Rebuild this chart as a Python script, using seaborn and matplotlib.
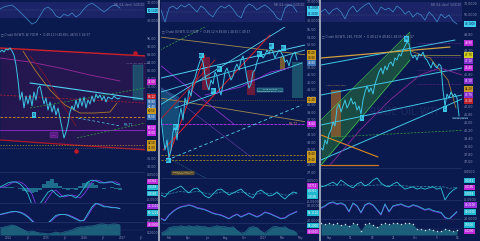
import numpy as np
import pandas as pd
import seaborn as sns
import matplotlib.pyplot as plt
from matplotlib.lines import Line2D
from matplotlib.patches import Rectangle

sns.set_theme(style="dark")
plt.rcParams['font.family'] = ['DejaVu Sans']

# ---------------- data ----------------
titles = ["Crude Oil WTI, W, FXCM", "Crude Oil WTI, D, FXCM", "Crude Oil WTI, 240, FXCM"]

left_price = [89, 90, 89, 90.5, 90, 91, 89.5, 87.5, 82.5, 75, 65, 69, 61, 67, 63, 67.5, 62, 69, 65, 71,
              72, 67.5, 63, 66, 60, 64, 59, 62.5, 57.5, 61, 56, 51, 46, 49, 53, 59, 62, 60, 65, 61,
              66, 62, 66.5, 61, 65, 63, 67, 64, 68, 66, 67.5, 65, 67, 64, 66.5, 66, 65.5, 67, 66, 65.5, 66]
mid_price = [37.8, 34.4, 31.4, 33.4, 29.8, 31.4, 35.0, 36.4, 33.4, 37.8, 39.8, 37.4, 41.8, 40.4, 43.4, 42.2,
             45.0, 45.8, 47.4, 48.6, 49.8, 49.0, 46.4, 44.4, 43.4, 45.4, 44.6, 47.0, 46.2, 43.8, 42.4, 44.4,
             47.0, 47.8, 46.6, 45.4, 46.2, 47.8, 48.6, 47.4, 49.4, 50.2, 48.2, 45.8, 43.8, 44.6, 47.0, 47.4,
             49.0, 50.2, 51.0, 49.8, 50.4, 51.4, 50.6, 51.8, 51.0, 49.8, 50.6, 51.4, 51.0, 50.2, 49.0, 49.4,
             48.2, 49.8, 50.6, 51.0, 49.4]
right_price = [38.4, 38.2, 39.2, 38.8, 39.8, 40.2, 41.0, 40.6, 42.4, 42.8, 42.0, 42.6, 43.2, 42.4, 42.8, 43.4,
               42.8, 43.0, 42.2, 42.6, 41.8, 43.2, 44.0, 44.6, 44.0, 44.4, 43.8, 44.8, 45.4, 46.0, 46.4, 45.8,
               46.6, 46.2, 46.8, 47.0, 46.6, 47.4, 47.2, 47.8, 47.6, 48.2, 48.6, 49.0, 48.8, 47.8, 47.4, 47.7,
               47.2, 47.8, 47.6, 48.0, 47.4, 47.2, 46.8, 46.4, 47.0, 46.6, 46.4, 46.8, 46.6, 44.2, 42.6, 43.8,
               43.4, 44.0, 43.6, 43.8, 43.4, 41.6]

left_top = [68, 75, 79, 82, 71, 57, 43, 29, 14, 21, 43, 68, 75, 64, 43, 36, 50, 43, 54, 39, 50, 68, 82, 89,
            79, 68, 57, 68, 79, 82, 71]
mid_top = [62, 15, 69, 77, 65, 81, 73, 85, 69, 54, 77, 65, 46, 35, 62, 77, 69, 81, 65, 42, 31, 69, 85, 77,
           62, 73, 81, 69, 54, 31, 23, 69, 81, 77, 54]
right_top = [60, 70, 53, 67, 73, 60, 37, 67, 80, 60, 73, 83, 90, 70, 53, 77, 67, 73, 60, 80, 70, 53, 63, 43,
             57, 50, 33, 60, 47, 27, 53, 40, 50, 30, 20]

left_osc_fast = [52, 58, 65, 68, 68, 61, 48, 29, -6, -16, -3, 16, 35, 42, 29, 19, 23, 26, 23, 16, 29, 48, 68,
                 74, 71, 65, 65, 68, 68, 61, 58]
left_osc_slow = [50, 52, 58, 65, 68, 68, 61, 48, 29, -6, -16, -3, 16, 35, 42, 29, 19, 23, 26, 23, 16, 29, 48,
                 68, 74, 71, 65, 65, 68, 68, 61]
left_osc_hist = [0, 3, 5, 3, 0, -3, -8, -12, -15, -12, -6, 12, 24, 30, 18, 6, -3, -6, -3, -6, 6, 15, 20, 18,
                 9, 0, -3, 0, 3, -3, -6]
left_stoch_a = [40, 45, 50, 55, 55, 50, 40, 25, 5, -15, -25, -20, -5, 15, 35, 40, 40, 35, 25, 15, 5, 10, 45, 80,
                100, 90, 80, 80, 75, 75, 70]
left_stoch_b = [38, 42, 48, 52, 55, 53, 45, 30, 10, -10, -22, -22, -10, 8, 28, 38, 40, 38, 30, 20, 8, 6, 35, 70,
                95, 95, 85, 80, 78, 76, 72]
left_area = [54, 62, 69, 77, 69, 54, 38, 23, 31, 23, 15, 15, 8, 15, 23, 15, 23, 31, 38, 54, 62, 62, 69, 69, 77,
             85, 85, 77, 85, 85, 77]

mid_osc_fast = [32, 24, 44, 52, 60, 68, 52, 40, 56, 60, 44, 28, 20, 36, 52, 56, 44, 32, 40, 48, 56, 40, 28, 20,
                44, 52, 40, 28, 32, 44, 28, 16, 32, 44, 40]
mid_osc_slow = [40, 38, 36, 40, 44, 46, 44, 42, 44, 46, 44, 40, 36, 36, 40, 44, 44, 40, 40, 42, 44, 42, 38, 34,
                36, 40, 40, 38, 36, 38, 36, 32, 32, 36, 38]
mid_stoch = [23, 14, 41, 59, 73, 82, 86, 91, 86, 77, 73, 68, 59, 50, 45, 41, 32, 23, 36, 45, 32, 41, 50, 41, 32,
             41, 55, 50, 41, 32, 23, 27, 41, 50, 59]
mid_area = [15, 31, 62, 69, 69, 77, 69, 77, 69, 77, 69, 69, 62, 69, 77, 69, 69, 62, 69, 38, 15, 23, 62, 69, 62,
            31, 15, 46, 69, 69, 62, 69, 46, 38, 15]

right_osc_fast = [41, 44, 50, 56, 47, 62, 53, 44, 38, 50, 56, 44, 50, 62, 69, 53, 44, 41, 50, 56, 44, 34, 38, 41,
                  34, 38, 34, 38, 41, 34, 38, 0, 19, 31, 38]
right_osc_slow = [44, 44, 45, 46, 46, 47, 47, 46, 45, 46, 47, 46, 45, 46, 47, 47, 46, 45, 45, 46, 45, 44, 43, 43,
                  43, 42, 42, 42, 42, 42, 42, 40, 36, 38, 40]
right_stoch = [60, 70, 85, 90, 80, 85, 75, 40, 85, 70, 35, 75, 85, 75, 50, 25, 80, 40, 70, 75, 80, 70, 65, 75, 70,
               60, 50, 55, 45, 40, 35, 10, 0, 20, 40]
right_area = [72, 67, 72, 67, 72, 61, 67, 56, 72, 67, 28, 67, 72, 61, 50, 67, 72, 67, 72, 78, 67, 72, 78, 67, 39,
              39, 33, 39, 33, 22, 28, 39, 33, 22, 33]

left_dates = ["2014", "Jul", "2015", "Jul", "2016", "Jul", "2017", "Jul"]
mid_dates = ["Feb", "Apr", "Jun", "Aug", "Oct", "2017", "Mar", "May"]
right_dates = ["Sep", "11", "18", "25", "Oct", "9", "16"]

# ---------------- style ----------------
W, H = 480, 241
BG = '#0b1a4e'
BAND = '#1a2466'
CYAN = '#3cc6e6'
BLUE = '#3f86cc'
PURP = '#7b3be6'
TEAL = '#1b5f7a'
GREY = '#8791b8'

fig = plt.figure(figsize=(4.8, 2.41), dpi=100)
fig.patch.set_facecolor(BG)


def px_axes(x0, y0, x1, y1):
    ax = fig.add_axes([x0 / W, 1 - y1 / H, (x1 - x0) / W, (y1 - y0) / H])
    ax.set_facecolor(BG)
    for s in ax.spines.values():
        s.set_visible(False)
    ax.yaxis.tick_right()
    ax.tick_params(axis='both', length=0, labelsize=2.3, colors=GREY, pad=1.5)
    ax.set_xticks([])
    ax.grid(False)
    ax.set_xlabel('')
    ax.set_ylabel('')
    return ax


def sline(ax, y, color, lw=0.6, **kw):
    sns.lineplot(x=np.arange(len(y)), y=y, ax=ax, color=color, linewidth=lw,
                 estimator=None, legend=False, **kw)
    ax.set_xlabel('')
    ax.set_ylabel('')


def seg(ax, p, q, color, lw=0.6, ls='-', alpha=1.0):
    ax.plot([p[0], q[0]], [p[1], q[1]], color=color, lw=lw, ls=ls, alpha=alpha)


def tag(ax, y, text, color, tc='white'):
    ax.text(1.02, y, text, transform=ax.get_yaxis_transform(), fontsize=2.0, color=tc,
            va='center', ha='left', clip_on=False,
            bbox=dict(boxstyle='square,pad=0.25', fc=color, ec='none'))


def note(ax, x, y, text, color=CYAN, tc='#0b1a4e'):
    ax.text(x, y, text, fontsize=1.8, color=tc, ha='center', va='center',
            bbox=dict(boxstyle='square,pad=0.25', fc=color, ec='none'))


def set_ticks(ax, ticks, labels):
    ax.set_yticks(ticks)
    ax.set_yticklabels(labels)


# ---------------- column layout ----------------
cols = [
    dict(x0=0, x1=145, top=(0, 28), main=(30, 172), o1=(172, 203), o2=(203, 222), ar=(222, 235),
         tt=([25, 92], ['30.0000', '70.0000']), t1=([10, 92], ['-0.0500', '0.0500']),
         t2=([10], ['20.0000']), ta=([20], ['0.2000'])),
    dict(x0=161, x1=305, top=(0, 26), main=(27, 178), o1=(178, 203), o2=(203, 223), ar=(223, 235),
         tt=([20, 94], ['30.0000', '70.0000']), t1=([5, 92], ['-0.0500', '0.0500']),
         t2=([12, 88], ['20.0000', '80.0000']), ta=([], [])),
    dict(x0=321, x1=462, top=(0, 30), main=(32, 168), o1=(168, 200), o2=(200, 219), ar=(219, 235),
         tt=([52, 88], ['50.0000', '70.0000']), t1=([2, 88], ['-0.0500', '0.0500']),
         t2=([4], ['20.0000']), ta=([], [])),
]
plims = [(29, 100), (25.8, 56), (36.4, 50)]
pxlim = [72.5, 72, 70.5]
ptick = [np.arange(32, 100, 4), np.arange(27, 56, 1.5), np.arange(37, 50, 0.8)]
tops = [left_top, mid_top, right_top]
bands = [(36, 93, 64), (15, 92, 54), (27, 93, 50)]
oxlim = [36.25, 36, 35.25]

for k, c in enumerate(cols):
    x0, x1 = c['x0'], c['x1']
    # top oscillator
    a = px_axes(x0, c['top'][0], x1, c['top'][1])
    lo, hi, mid = bands[k]
    a.axhspan(lo, hi, color=BAND, lw=0)
    a.axhline(mid, color='#5d6aa8', lw=0.3, ls=(0, (2, 2)))
    sline(a, tops[k], BLUE, lw=0.55)
    a.set_xlim(0, oxlim[k]); a.set_ylim(0, 100)
    set_ticks(a, *c['tt'])
    a.text(0.99, 0.9, 'RSI (14, close)  54.8110', transform=a.transAxes, fontsize=1.8,
           color=GREY, ha='right', va='top')
    a.axhline(0, color='#22306a', lw=0.6)

    # main price
    m = px_axes(x0, c['main'][0], x1, c['main'][1])
    m.set_xlim(0, pxlim[k]); m.set_ylim(*plims[k])
    set_ticks(m, ptick[k], ['%.2f' % v for v in ptick[k]])
    m.text(0.01, 0.985, '\u25a1 ' + titles[k] + '  \u2022  O 49.12 H 49.80 L 48.55 C 49.37',
           transform=m.transAxes, fontsize=2.1, color=GREY, ha='left', va='top')

    # oscillator 1
    o1 = px_axes(x0, c['o1'][0], x1, c['o1'][1])
    o1.set_xlim(0, oxlim[k]); o1.set_ylim(0, 100)
    set_ticks(o1, *c['t1'])
    o1.axhline(100, color='#22306a', lw=0.6)
    # oscillator 2
    o2 = px_axes(x0, c['o2'][0], x1, c['o2'][1])
    o2.set_xlim(0, oxlim[k]); o2.set_ylim(0, 100)
    set_ticks(o2, *c['t2'])
    o2.axhline(100, color='#22306a', lw=0.6)
    # area
    ar = px_axes(x0, c['ar'][0], x1, c['ar'][1])
    ar.set_xlim(0, oxlim[k]); ar.set_ylim(0, 100)
    set_ticks(ar, *c['ta'])
    ar.axhline(100, color='#22306a', lw=0.6)
    ar.axhline(35, color='#3a4a8a', lw=0.3, ls=(0, (2, 2)))
    c['axes'] = (a, m, o1, o2, ar)

# ---------------- left column ----------------
a, m, o1, o2, ar = cols[0]['axes']
m.fill_between([0, 73.5], [91, 87], [45, 40], color='#3a1650', alpha=0.55, lw=0)
m.add_patch(Rectangle((66.5, 65), 5, 17.5, fc='#1d5a72', ec='#2a8aa8', lw=0.3, alpha=0.8))
seg(m, (0, 91), (73.5, 87), '#d0202a', lw=1.0)
seg(m, (0, 45), (73.5, 40), '#b01828', lw=0.9)
seg(m, (0, 67.5), (72.5, 63.5), '#c0202a', lw=0.5, ls=(0, (3, 2)))
seg(m, (0, 56.5), (72.5, 56.5), '#d89a20', lw=0.6, ls=(0, (3, 2)))
seg(m, (0, 50), (72.5, 50), '#9a2ad8', lw=0.6)
seg(m, (0, 42.5), (72.5, 42.5), '#b08a30', lw=0.5, ls=(0, (2, 2)))
seg(m, (0, 41), (72.5, 41), '#706060', lw=0.4, ls=(0, (2, 2)))
seg(m, (15, 73.5), (71.5, 65.5), '#4fd0f0', lw=0.8)
seg(m, (15, 61), (72.5, 71), '#2ea040', lw=0.5, ls=(0, (3, 2)))
seg(m, (38.5, 46), (72.5, 53.5), '#2ea040', lw=0.5, ls=(0, (3, 2)))
seg(m, (39, 56), (60, 52), '#4fd0f0', lw=0.5, ls=(0, (4, 3)))
m.plot([0, 15, 30, 45, 60], [86, 84, 81, 77.5, 74.5], color='#9a2a9a', lw=0.6)
m.plot([11.5, 17.5, 25, 32.5, 40, 47.5, 55, 58.5], [89.5, 80, 70, 62.5, 58.5, 58.5, 59, 63.5],
       color='#b07a2a', lw=0.6)
m.plot([15, 22, 30, 38], [87, 78, 65, 52], color='#8a1530', lw=0.5)
sline(m, left_price, CYAN, lw=0.7)
m.scatter([67.5, 38], [88.5, 39.5], s=5, color='#c01828', zorder=5)
m.text(27, 47.5, '\u2014\u2014', fontsize=2.2, color='#c060e0', ha='center', va='center',
       bbox=dict(boxstyle='round,pad=0.3', fc='#5a1a80', ec='#8a3ac0', lw=0.3))
m.text(69, 83.5, '10.00 (20.70%) 2180', fontsize=1.6, color=GREY, ha='center')
m.text(64, 51.8, 'MS.TT', fontsize=2.2, color='#4fd0f0', ha='center')
note(m, 17, 57.5, 'LS')
tag(m, 74, '74.00', '#c02ac8'); tag(m, 66.5, '66.12', '#c0202a'); tag(m, 64, '63.80', '#3a70b0')
tag(m, 61.5, '62.40', '#3a70b0'); tag(m, 59.5, '60.50', '#c89a20', '#201000')
tag(m, 56.5, '56.50', '#3a70b0'); tag(m, 51, '50.12', '#c02ae0'); tag(m, 48.5, '49.00', '#c02ae0')
tag(m, 43.5, '42.50', '#c89a20', '#201000'); tag(m, 41, '41.00', '#c89a20', '#201000')
a.text(1.02, 62, '50.1300', transform=a.get_yaxis_transform(), fontsize=2.0, color='#0b1a4e',
       va='center', ha='left', bbox=dict(boxstyle='square,pad=0.25', fc='#40d0f0', ec='none'))
o1.bar(np.arange(len(left_osc_hist)), left_osc_hist, bottom=48, width=0.8, color='#1f6d8c', lw=0)
sline(o1, left_osc_slow, PURP, lw=0.6)
sline(o1, left_osc_fast, '#2ec4dc', lw=0.6)
tag(o1, 70, '0.0341', '#c02ad8'); tag(o1, 50, '0.0158', '#20b8d0'); tag(o1, 30, '0.0183', '#20b8d0')
sline(o2, left_stoch_b, PURP, lw=0.6)
sline(o2, left_stoch_a, '#2ec4dc', lw=0.6)
tag(o2, 82, '72.1110', '#9a30e0'); tag(o2, 48, '60.1224', '#20b8d0')
ar.fill_between(np.arange(len(left_area)), left_area, 0, color=TEAL, lw=0)
sline(ar, left_area, '#2a7f9a', lw=0.4)
tag(ar, 80, '48.0000', '#c02ad8')

# ---------------- middle column ----------------
a, m, o1, o2, ar = cols[1]['axes']
for (x, y0, w, h, col) in [(20.5, 43.4, 4, 6.6, '#7a1a3a'), (43, 42.4, 4, 5.0, '#7a1a3a'),
                           (59.5, 47.4, 2.5, 2.6, '#8a6a30'), (65.5, 41.8, 5.5, 7.2, '#1d5a72')]:
    m.add_patch(Rectangle((x, y0), w, h, fc=col, ec='none', alpha=0.85))
m.fill([-0.5, 1, 4, 9, 9, -0.5], [40, 35, 29.8, 36, 42, 44], color='#2aa8c8', alpha=0.35, lw=0)
seg(m, (-0.5, 54), (73, 50.4), '#a08a50', lw=0.6)
seg(m, (-0.5, 41.8), (73, 37), '#a08a50', lw=0.6)
seg(m, (0, 30.4), (72, 30.4), '#c89a20', lw=0.5, ls=(0, (3, 2)))
seg(m, (0, 29.4), (72, 29.4), '#c89a20', lw=0.5, ls=(0, (3, 2)))
seg(m, (0, 41.4), (72, 41.4), '#8a6a30', lw=0.4, ls=(0, (2, 2)))
seg(m, (0, 36.6), (72, 36.6), '#a030e0', lw=0.7, ls=(0, (3, 1)))
seg(m, (-0.5, 48.4), (37, 36.4), '#8a30d0', lw=0.6)
seg(m, (-0.5, 44), (45, 30), '#6a40b0', lw=0.4)
seg(m, (-0.5, 51.4), (22, 56), '#2ea040', lw=0.5, ls=(0, (3, 2)))
seg(m, (0, 45.8), (72, 52.4), '#4fd0f0', lw=0.7)
seg(m, (0, 43), (72, 51.4), '#4fd0f0', lw=0.6)
seg(m, (7, 39.8), (70.5, 48.8), '#4fd0f0', lw=0.6)
seg(m, (-0.5, 40.4), (63.5, 56.4), '#4fd0f0', lw=0.6)
seg(m, (5.5, 29.8), (70.5, 40.4), '#4fd0f0', lw=0.6, ls=(0, (4, 3)))
seg(m, (5, 29.5), (40, 22), '#3a8aa0', lw=0.4, ls=(0, (2, 2)))
seg(m, (3.5, 29.8), (22, 50.4), '#e0202a', lw=0.7)
seg(m, (1, 31.4), (54.5, 54.4), '#e0202a', lw=0.7)
seg(m, (-0.5, 37.4), (27, 49.4), '#c0202a', lw=0.6)
m.plot([22, 40, 55, 64], [42.4, 44, 47, 47.8], color='#8a30d0', lw=0.6)
sline(m, mid_price, CYAN, lw=0.7)
m.text(54.5, 43.4, 'Long Position\nRisk/Reward Ratio: 2.04', fontsize=1.5, color='#c0e8f0', ha='center',
       va='center', bbox=dict(boxstyle='square,pad=0.3', fc='#1d5a72', ec='#40a0c0', lw=0.3))
m.text(11, 26.8, 'Target: 1.2  Stop: 0.85\n Amount: 1000', fontsize=1.4, color='#e0c080', ha='center',
       va='center', bbox=dict(boxstyle='round,pad=0.4', fc='#5a5030', ec='none'))
m.text(66, 36.7, 'MS.TT', fontsize=2.2, color='#d08060', ha='center', va='center')
for (x, y) in [(20, 50.3), (29, 47.6), (49, 50.6), (55, 52.2), (61, 51.8), (3.5, 29.3), (7, 36), (26, 43.2)]:
    note(m, x, y, 'HH')
tag(m, 50.8, '50.40', '#c89a20', '#201000'); tag(m, 49.9, '49.80', '#c89a20', '#201000')
tag(m, 48.8, '48.80', '#3a70b0'); tag(m, 41.4, '41.40', '#c89a20', '#201000')
tag(m, 36.6, '36.60', '#c02ae0'); tag(m, 30.6, '30.40', '#c89a20', '#201000')
tag(m, 29.4, '29.40', '#c89a20', '#201000')
a.text(1.02, 68, '61.2000', transform=a.get_yaxis_transform(), fontsize=2.0, color='#0b1a4e',
       va='center', ha='left', bbox=dict(boxstyle='square,pad=0.25', fc='#40d0f0', ec='none'))
a.text(1.02, 48, '55.3000', transform=a.get_yaxis_transform(), fontsize=2.0, color='#0b1a4e',
       va='center', ha='left', bbox=dict(boxstyle='square,pad=0.25', fc='#40d0f0', ec='none'))
sline(o1, mid_osc_slow, '#2a90b0', lw=0.5, linestyle='--')
sline(o1, mid_osc_fast, '#2ec4dc', lw=0.6)
tag(o1, 68, '0.0712', '#c02ad8'); tag(o1, 47, '0.0310', '#20b8d0'); tag(o1, 26, '0.0105', '#20b8d0')
sline(o2, mid_stoch, PURP, lw=0.7)
sline(o2, [v - 3 for v in mid_stoch], '#2ec4dc', lw=0.4)
tag(o2, 50, '54.1102', '#20b8d0')
ar.fill_between(np.arange(len(mid_area)), mid_area, 0, color=TEAL, lw=0)
sline(ar, mid_area, '#2a7f9a', lw=0.4)
tag(ar, 78, '58.2000', '#20b8d0'); tag(ar, 28, '40.0000', '#c02ad8')

# ---------------- right column ----------------
a, m, o1, o2, ar = cols[2]['axes']
m.text(40, 42, 'CRUDE OIL WTI', fontsize=7, color='#3a4a8a', alpha=0.35, ha='center', va='center')
m.fill_between([0, 44.5], [41.2, 50], [36.7, 47.2], color='#2e8a3a', alpha=0.45, lw=0)
seg(m, (0, 41.2), (44.5, 50), '#40c050', lw=0.5)
seg(m, (0, 36.7), (44.5, 47.2), '#40c050', lw=0.5)
m.add_patch(Rectangle((5, 39.5), 5, 4.7, fc='#8a5a30', ec='none', alpha=0.85))
m.text(7.5, 44.6, '1.25 (2.92%) 1157', fontsize=1.5, color='#e0a060', ha='center')
seg(m, (0, 46.7), (67, 49.2), '#40c8e8', lw=0.7)
seg(m, (0, 43.7), (70.5, 46.4), '#40c8e8', lw=0.7)
seg(m, (0, 40.7), (70.5, 43.7), '#40c8e8', lw=0.7)
seg(m, (0, 37.2), (70.5, 43.3), '#40c8e8', lw=0.7)
seg(m, (0, 47.4), (64.5, 48.5), '#d0a040', lw=0.9)
seg(m, (45, 47.7), (69.5, 47.7), '#a09a40', lw=0.5)
seg(m, (0, 39.7), (28.5, 37.5), '#e08a20', lw=0.8)
seg(m, (0, 36.7), (28.5, 36.7), '#c87a20', lw=0.9)
seg(m, (5, 39.5), (74.5, 40.2), '#2ea040', lw=0.5, ls=(0, (3, 2)))
for yv in [48.9, 47.5, 46.2, 44.8]:
    seg(m, (48, yv), (70.5, yv), '#a030c0', lw=0.4, ls=(0, (1, 1.5)))
m.plot([4.5, 19.5, 34.5, 49.5, 59.5, 70.5], [36.7, 40.2, 43.2, 45.7, 46.4, 45.7], color='#8a2a9a', lw=0.6)
m.plot([43.5, 54.5, 63.5, 67.5], [48.2, 47.4, 45.2, 42.4], color='#a07a3a', lw=0.6)
sline(m, right_price, CYAN, lw=0.7)
note(m, 43, 49.3, 'HH'); note(m, 20.5, 41.4, 'LL'); note(m, 62, 42.3, 'LL')
m.text(69.5, 41.4, '43.33 / 43.33', fontsize=1.6, color='#c0e8f0', ha='center', va='center',
       bbox=dict(boxstyle='square,pad=0.2', fc='#2a5080', ec='none'))
tag(m, 48.9, '48.90', '#c02ad8'); tag(m, 47.7, '47.70', '#d0d020', '#201000')
tag(m, 47.1, '47.10', '#8a30d0'); tag(m, 46.4, '46.40', '#c02ad8'); tag(m, 45.1, '45.10', '#8a30d0')
tag(m, 44.3, '44.20', '#c89a20', '#201000'); tag(m, 43.7, '43.70', '#8a30d0')
tag(m, 43.1, '43.20', '#c0202a')
a.text(1.02, 20, '40.1000', transform=a.get_yaxis_transform(), fontsize=2.0, color='#0b1a4e',
       va='center', ha='left', bbox=dict(boxstyle='square,pad=0.25', fc='#40d0f0', ec='none'))
sline(o1, right_osc_slow, '#2a90b0', lw=0.5, linestyle='--')
sline(o1, right_osc_fast, '#2ec4dc', lw=0.6)
tag(o1, 60, '0.0212', '#20b8d0'); tag(o1, 40, '0.0105', '#c02ad8'); tag(o1, 20, '0.0093', '#20b8d0')
sline(o2, [v - 4 for v in right_stoch], PURP, lw=0.6)
sline(o2, right_stoch, '#2ec4dc', lw=0.5)
tag(o2, 74, '40.2100', '#9a30e0'); tag(o2, 36, '30.0100', '#20b8d0')
ar.fill_between(np.arange(len(right_area)), right_area, 0, color=TEAL, lw=0)
sns.scatterplot(x=np.arange(len(right_area)), y=right_area, ax=ar, color='#d0d8e8', s=1.2,
                linewidth=0, legend=False)
ar.set_xlabel(''); ar.set_ylabel('')
tag(ar, 62, '0.5500', '#20b8d0'); tag(ar, 22, '0.2200', '#c02ad8')

# ---------------- date labels ----------------
for c, labels in zip(cols, [left_dates, mid_dates, right_dates]):
    ar = c['axes'][4]
    lim = ar.get_xlim()[1]
    pos = np.linspace(lim * 0.06, lim * 0.97, len(labels))
    ar.set_xticks(pos)
    ar.set_xticklabels(labels)
    ar.tick_params(axis='x', labelsize=2.0, colors=GREY, pad=0.6, length=0)

# ---------------- panel separators ----------------
for xs in [159, 319.5]:
    fig.add_artist(Line2D([xs / W, xs / W], [0, 1], transform=fig.transFigure,
                          color='#a6adc0', lw=1.3))

fig.savefig('out.png', dpi=100, facecolor=BG)
